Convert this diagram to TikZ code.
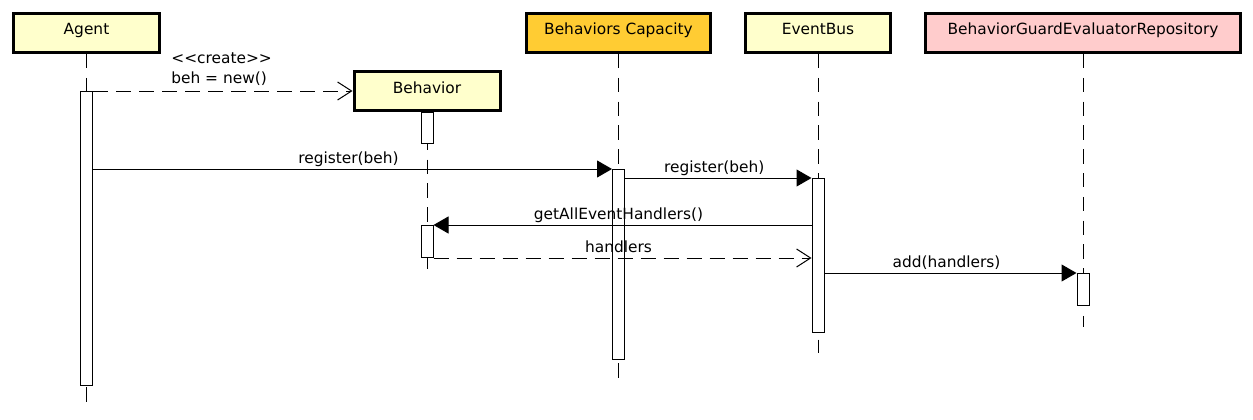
\documentclass[tikz,border=0pt]{standalone}
\usepackage{fontspec}
\setmainfont{DejaVu Sans}
\usepackage{xcolor}
\usetikzlibrary{positioning,arrows.meta}

\definecolor{partyellow}{RGB}{255,255,204}
\definecolor{caporange}{RGB}{255,204,51}
\definecolor{repopink}{RGB}{255,204,204}

\begin{document}
\begin{tikzpicture}[x=1pt, y=-1pt,
		font=\fontsize{15.4pt}{18pt}\selectfont,
		party/.style={draw, line width=3pt, fill=partyellow, minimum height=39pt, text height=11pt, text depth=7pt},
		life/.style={line width=1pt, dash pattern=on 14.3pt off 9.5pt},
		bar/.style={draw, line width=1pt, fill=white, minimum width=12pt, inner sep=0pt, anchor=north},
		msg/.style={line width=1pt, -{Triangle[length=15pt, width=17pt]}},
		ret/.style={line width=1pt, dash pattern=on 15pt off 8pt, -{Straight Barb[length=14pt, width=18pt]}},
		lbl/.style={anchor=base, inner sep=0pt, xshift=-4pt, yshift=5.5pt}]
	\useasboundingbox (0,0) rectangle (1253,420);
	% participants
	\node[party, minimum width=146pt] (agent) at (86.5,33) {Agent};
	\node[party, minimum width=184pt, fill=caporange] (cap) at (618.5,33) {Behaviors Capacity};
	\node[party, minimum width=145pt] (bus) at (818,33) {EventBus};
	\node[party, minimum width=315pt, fill=repopink] (repo) at (1083,33) {BehaviorGuardEvaluatorRepository};
	\node[party, minimum width=146pt] (beh) at (427,91) {Behavior};
	% lifelines
	\draw[life] (agent.south) -- ++(0,351);
	\draw[life] (beh.south) -- ++(0,158);
	\draw[life] (cap.south) -- ++(0,326);
	\draw[life] (bus.south) -- ++(0,299);
	\draw[life] (repo.south) -- ++(0,273);
	% activations
	\node[bar, minimum height=294pt] (agentbar) at (agent.south |- 0,91) {};
	\node[bar, minimum height=31pt] (behbar1) at (beh.south) {};
	\node[bar, minimum height=32pt] (behbar2) at (beh.south |- 0,225) {};
	\node[bar, minimum height=190pt] (capbar) at (cap.south |- 0,169) {};
	\node[bar, minimum height=154pt] (busbar) at (bus.south |- 0,178) {};
	\node[bar, minimum height=32pt] (repobar) at (repo.south |- 0,273) {};
	% messages
	\draw[ret] (agentbar.north east) -- (beh.west |- agentbar.north east)
		node[pos=0.3, anchor=base west, inner sep=0pt, yshift=27.5pt] (stereo) {<{}<create>{}>}
		node[pos=0.3, anchor=base west, inner sep=0pt, yshift=8pt] (ctor) {beh = new()};
	\draw[msg] (agentbar.east |- capbar.north west) -- (capbar.north west) node[lbl, midway] (reg1) {register(beh)};
	\draw[msg] (capbar.east |- busbar.north west) -- (busbar.north west) node[lbl, midway] (reg2) {register(beh)};
	\draw[msg] (busbar.west |- behbar2.north east) -- (behbar2.north east) node[lbl, midway] (getall) {getAllEventHandlers()};
	\draw[ret] (behbar2.south east) -- (busbar.west |- behbar2.south east) node[lbl, midway] (hdl) {handlers};
	\draw[msg] (busbar.east |- repobar.north west) -- (repobar.north west) node[lbl, midway] (add) {add(handlers)};
\end{tikzpicture}
\end{document}
